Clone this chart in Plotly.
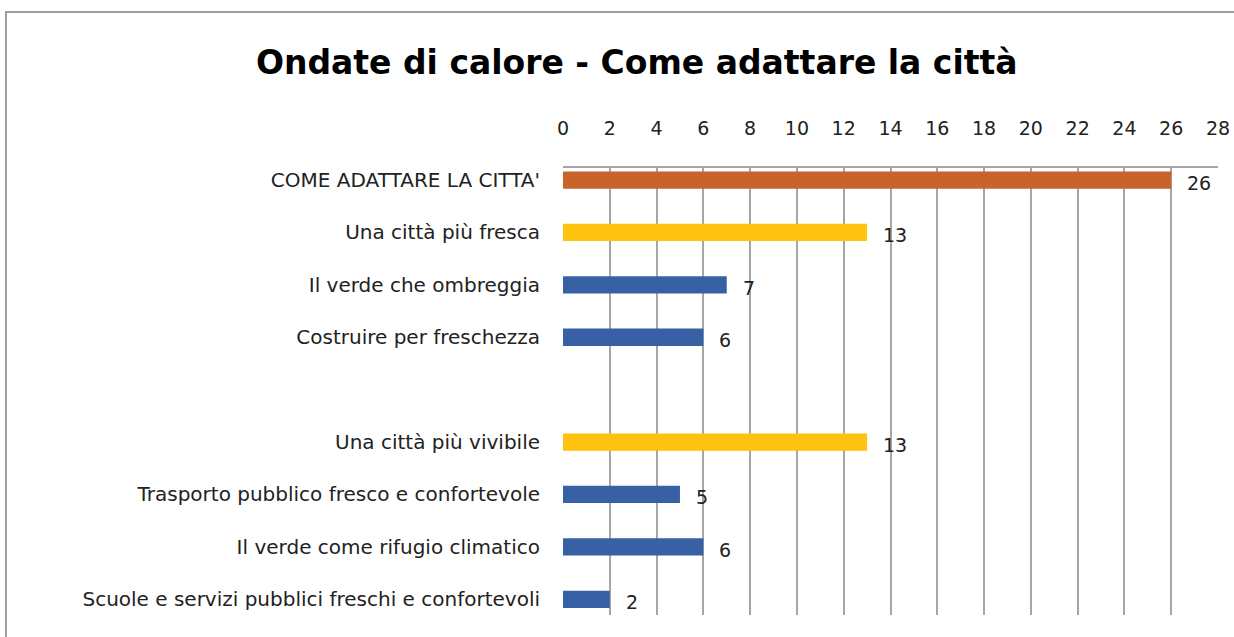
import plotly.graph_objects as go

# categories top-to-bottom, " " is the empty slot between the two groups
categories = ["COME ADATTARE LA CITTA'", "Una città più fresca", "Il verde che ombreggia",
              "Costruire per freschezza", " ", "Una città più vivibile",
              "Trasporto pubblico fresco e confortevole", "Il verde come rifugio climatico",
              "Scuole e servizi pubblici freschi e confortevoli"]
values = [26, 13, 7, 6, None, 13, 5, 6, 2]
colors = ["#C9632B", "#FFC20E", "#3860A4", "#3860A4", "#3860A4",
          "#FFC20E", "#3860A4", "#3860A4", "#3860A4"]
tick_vals = list(range(0, 29, 2))

fig = go.Figure()
fig.add_trace(go.Bar(
    x=values, y=categories, orientation='h',
    marker=dict(color=colors, line=dict(width=0)),
    width=0.33, hoverinfo='x+y'))

for cat, v in zip(categories, values):
    if v is None:
        continue
    fig.add_annotation(x=v, y=cat, text=str(v), showarrow=False,
                       xanchor='left', xshift=14, yshift=-3,
                       font=dict(family='DejaVu Sans', size=19, color='#222222'))

fig.update_layout(
    title=dict(text='<b>Ondate di calore - Come adattare la città</b>',
               x=0.516, xanchor='center', y=0.902, yanchor='middle',
               font=dict(family='DejaVu Sans', size=33, color='#000000')),
    width=1234, height=637,
    margin=dict(l=563, r=16, t=168, b=22),
    plot_bgcolor='white', paper_bgcolor='white',
    showlegend=False,
    xaxis=dict(side='top', range=[0, 28], tickvals=tick_vals, automargin=False,
               showgrid=True, gridcolor='#A6A6A6', gridwidth=1.5,
               zeroline=False, showline=True, linecolor='#A6A6A6', linewidth=1.5,
               ticks='', ticklabelstandoff=24,
               tickfont=dict(family='DejaVu Sans', size=19, color='#222222')),
    yaxis=dict(type='category', categoryorder='array', categoryarray=categories,
               autorange=False, range=[8.3, -0.23], showgrid=False, automargin=False,
               showline=False, zeroline=False, ticks='', ticklabelstandoff=22,
               tickfont=dict(family='DejaVu Sans', size=20, color='#222222')),
    shapes=[dict(type='rect', xref='paper', yref='paper',
                 x0=(6 - 563) / 655, x1=1.2, y0=-0.2, y1=1 + (168 - 12) / 447,
                 line=dict(color='#9E9E9E', width=2))],
)

fig.write_html("out.html", config={'displayModeBar': False},
               post_script="document.body.style.margin='0';")
